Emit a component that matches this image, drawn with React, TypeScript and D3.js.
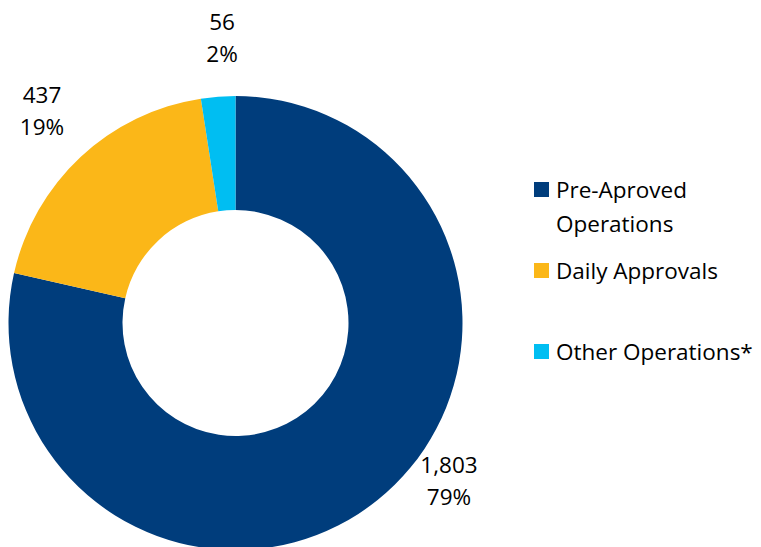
import React from "react";
import * as d3 from "d3";

const categories = ["Pre-Aproved Operations", "Daily Approvals", "Other Operations*"];
const values = [1803, 437, 56];
const percents = ["79%", "19%", "2%"];
const colors = ["#003D7C", "#FBB718", "#00BEF2"];
const legendLines = [["Pre-Aproved", "Operations"], ["Daily Approvals"], ["Other Operations*"]];

export default function App() {
  const W = 761, H = 547;
  const cx = 235.5, cy = 323, R = 227, r = 113;
  const pie = d3.pie<number>().sort(null).value((d) => d)(values);
  const arc = d3.arc<d3.PieArcDatum<number>>().innerRadius(r).outerRadius(R);
  const fmt = d3.format(",");
  const labelPos: [number, number][] = [
    [449, 473],
    [42, 103],
    [222, 30],
  ];
  const legendY = [198, 279, 360];
  const font = "'Open Sans', sans-serif";
  return (
    <svg width={W} height={H} style={{ position: "absolute", left: 0, top: 0 }} fontFamily={font}>
      <rect width={W} height={H} fill="#fff" />
      <g transform={`translate(${cx},${cy})`}>
        {pie.map((p, i) => (
          <path key={i} d={arc(p) || ""} fill={colors[i]} />
        ))}
      </g>
      {pie.map((p, i) => (
        <g key={i} fontSize={22.5} fill="#000" textAnchor="middle">
          <text x={labelPos[i][0]} y={labelPos[i][1]}>{fmt(values[i])}</text>
          <text x={labelPos[i][0]} y={labelPos[i][1] + 32}>{percents[i]}</text>
        </g>
      ))}
      {categories.map((c, i) => (
        <g key={c}>
          <rect x={534} y={legendY[i] - 16} width={15} height={15} fill={colors[i]} />
          {legendLines[i].map((l, j) => (
            <text key={j} x={556} y={legendY[i] + j * 34} fontSize={22.5} fill="#000">{l}</text>
          ))}
        </g>
      ))}
    </svg>
  );
}
